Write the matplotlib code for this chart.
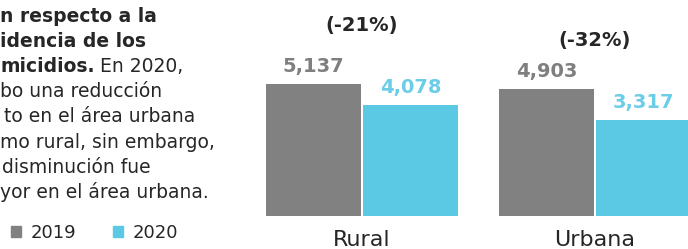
import numpy as np
import matplotlib
matplotlib.use('Agg')
import matplotlib.pyplot as plt
from matplotlib.patches import Patch

# data
areas = ['Rural', 'Urbana']
years = ['2019', '2020']
v2019 = np.array([5137, 4903])
v2020 = np.array([4078, 3317])

bold_lines = ['n respecto a la', 'idencia de los', 'micidios.']
plain_lines = [' En 2020,', 'bo una reducción', 'to en el área urbana',
               'mo rural, sin embargo,', 'disminución fue', 'yor en el área urbana.']

gray = '#818181'
cyan = '#5BC9E4'
dark = '#262626'

W, H = 688, 249
fig = plt.figure(figsize=(W / 100, H / 100), dpi=100)

def fx(px):
    return px / W

def fy(py):
    return 1 - py / H

# bar area
ax = fig.add_axes([fx(250), fy(216), fx(438), 1 - fy(216)])
floor = -1520
ax.set_xlim(-0.481, 1.399)
ax.set_ylim(floor, 9373)
x = np.arange(len(areas))
w = 0.408
off = 0.208
ax.bar(x - off, v2019 - floor, w, bottom=floor, color=gray)
ax.bar(x + off, v2020 - floor, w, bottom=floor, color=cyan)

for xi, v in zip(x - off, v2019):
    ax.annotate(f'{v:,}', (xi, v), xytext=(0, 8.5), textcoords='offset points',
                ha='center', va='baseline', fontsize=14, fontweight='bold', color='#7f7f7f')
for xi, v in zip(x + off, v2020):
    ax.annotate(f'{v:,}', (xi, v), xytext=(0, 8.5), textcoords='offset points',
                ha='center', va='baseline', fontsize=14, fontweight='bold', color='#6ccde8')

pct = np.round((v2020 - v2019) / v2019 * 100).astype(int)
for xi, v, p in zip(x, v2020, pct):
    ax.annotate(f'({p}%)', (xi, v), xytext=(0, 53), textcoords='offset points',
                ha='center', va='baseline', fontsize=14, fontweight='bold', color=dark)

ax.set_xticks(x)
ax.set_xticklabels(areas, fontsize=16, color=dark)
ax.tick_params(axis='x', length=0, pad=10)
ax.set_yticks([])
for s in ax.spines.values():
    s.set_visible(False)

# side text
fs = 13.5
base = 22
step = 25.1
for i, t in enumerate(bold_lines):
    txt = fig.text(fx(0), fy(base + step * i), t, fontsize=fs, fontweight='bold',
                   color=dark, va='baseline', ha='left')
# plain part goes right after the last bold word
fig.canvas.draw()
bb = txt.get_window_extent()
fig.text(bb.x1 / W, fy(base + step * 2), plain_lines[0], fontsize=fs, color=dark,
         va='baseline', ha='left')
line_x = [0, 4, 0, 2, 0]
for i, t in enumerate(plain_lines[1:]):
    fig.text(fx(line_x[i]), fy(base + step * (i + 3)), t, fontsize=fs, color=dark,
             va='baseline', ha='left')

# legend
handles = [Patch(color=gray), Patch(color=cyan)]
fig.legend(handles, years, loc='center left', bbox_to_anchor=(fx(11), fy(233)),
           ncol=2, frameon=False, fontsize=13, handlelength=0.55, handleheight=0.55,
           handletextpad=0.55, columnspacing=2.0, borderpad=0, borderaxespad=0,
           labelcolor=dark)

fig.savefig('out.png', dpi=100)
